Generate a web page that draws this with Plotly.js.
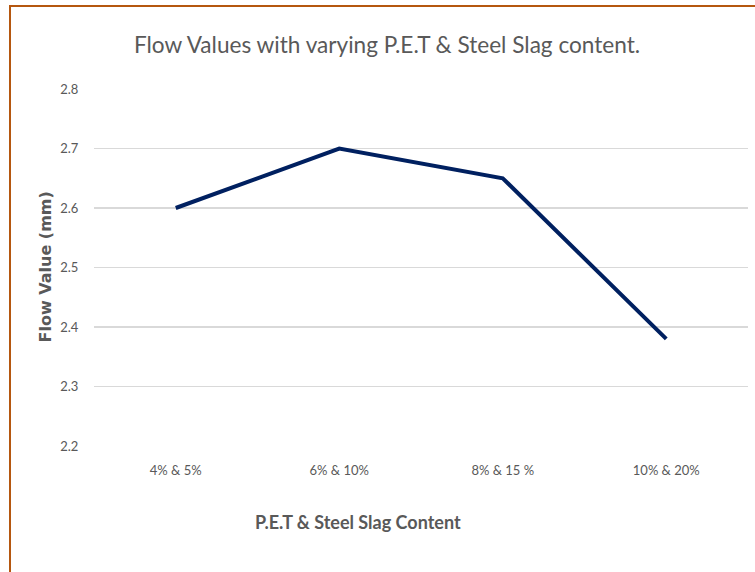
<!DOCTYPE html>
<html>
<head>
<meta charset="utf-8">
<script src="https://cdn.plot.ly/plotly-3.0.1.min.js"></script>
<style>
html,body{margin:0;padding:0;background:#fff;}
#wrap{position:relative;width:755px;height:572px;overflow:hidden;}
#chart{position:absolute;left:0;top:0;width:755px;height:572px;}
#frame{position:absolute;left:9px;top:5px;width:800px;height:700px;border-top:2px solid #B5570F;border-left:2px solid #B5570F;pointer-events:none;}
</style>
</head>
<body>
<div id="wrap"><div id="chart"></div><div id="frame"></div></div>
<script>
const categories = ["4% & 5%", "6% & 10%", "8% & 15 %", "10% & 20%"];
const flowValues = [2.6, 2.7, 2.65, 2.38];
const yTicks = [2.2, 2.3, 2.4, 2.5, 2.6, 2.7, 2.8];

const FONT = "Lato, 'Open Sans', sans-serif";
const GREY = "#595959";

const trace = {
  x: categories,
  y: flowValues,
  type: "scatter",
  mode: "lines",
  line: {color: "#002060", width: 4},
  hoverinfo: "x+y"
};

const layout = {
  width: 755, height: 572,
  margin: {l: 94, r: 7, t: 89, b: 126},
  paper_bgcolor: "#fff", plot_bgcolor: "#fff",
  showlegend: false,
  title: {
    text: "Flow Values with varying P.E.T & Steel Slag content.",
    font: {family: FONT, size: 22.6, color: GREY},
    x: 0.5126, xanchor: "center", xref: "container",
    y: 1 - 45/572, yanchor: "middle", yref: "container"
  },
  xaxis: {
    type: "category",
    range: [-0.5, 3.5],
    showgrid: false, zeroline: false, showline: false,
    ticks: "outside", ticklen: 12, tickcolor: "rgba(0,0,0,0)",
    tickfont: {family: FONT, size: 13, color: GREY},
    fixedrange: true
  },
  yaxis: {
    range: [2.2, 2.8],
    tickvals: yTicks,
    ticktext: yTicks.map(v => v.toFixed(1)),
    showgrid: true, gridcolor: "#d9d9d9", gridwidth: 1.5,
    zeroline: false, showline: false,
    ticks: "outside", ticklen: 12, tickcolor: "rgba(0,0,0,0)",
    tickfont: {family: FONT, size: 13, color: GREY},
    fixedrange: true
  },
  annotations: [
    {
      text: "<b>Flow Value (mm)</b>",
      xref: "paper", yref: "paper",
      x: (45 - 94) / 654, y: 0.5,
      xanchor: "center", yanchor: "middle",
      textangle: -90, showarrow: false,
      font: {family: "'DejaVu Sans', sans-serif", size: 16, color: GREY}
    },
    {
      text: "<b>P.E.T & Steel Slag Content</b>",
      xref: "paper", yref: "paper",
      x: (358 - 94) / 654, y: (446 - 522) / 357,
      xanchor: "center", yanchor: "middle",
      showarrow: false,
      font: {family: FONT, size: 18, color: GREY}
    }
  ]
};

Plotly.newPlot("chart", [trace], layout, {displayModeBar: false, staticPlot: true});
</script>
</body>
</html>
